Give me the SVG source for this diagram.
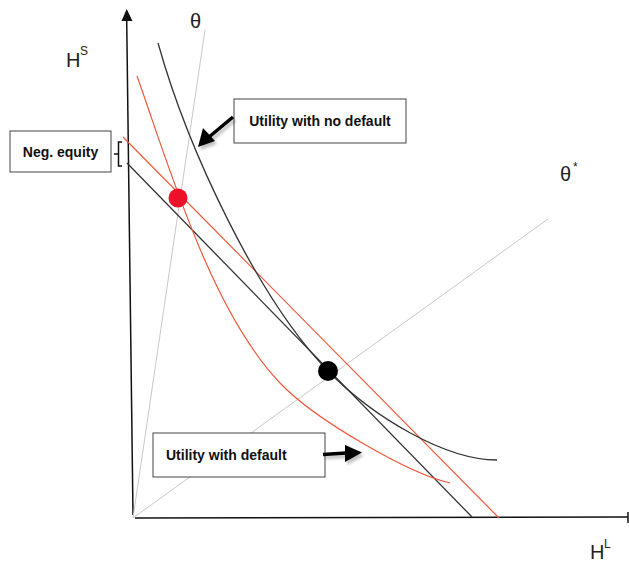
<svg xmlns="http://www.w3.org/2000/svg" width="629" height="564" viewBox="0 0 629 564">
<style>
  .axis{stroke:#111;stroke-width:1.5;fill:none}
  .guide{stroke:#c8c8c8;stroke-width:1;fill:none}
  .blk{stroke:#333;stroke-width:1.3;fill:none}
  .red{stroke:#f0583a;stroke-width:1.2;fill:none}
  .lbl{font-family:"Liberation Sans",Arial,sans-serif;fill:#222}
  .box{fill:#fff;stroke:#444;stroke-width:1}
  .btxt{font-family:"Liberation Sans",Arial,sans-serif;font-weight:bold;font-size:14px;fill:#111}
  .shadow{stroke:#000;opacity:0.25}
</style>
<defs>
  <filter id="blur" x="-20%" y="-20%" width="140%" height="140%"><feGaussianBlur stdDeviation="1.5"/></filter>
</defs>
<rect width="629" height="564" fill="#fff"/>
<g id="axes">
  <line class="axis" x1="126.7" y1="20" x2="133" y2="515"/>
  <polygon points="126.7,9 121.5,21 132.5,21" fill="#111"/>
  <line class="axis" x1="135" y1="518" x2="628" y2="517"/>
  <line class="axis" x1="628" y1="512" x2="628" y2="523" stroke-width="1"/>
</g>
<g id="connectors">
  <line class="guide" x1="133" y1="518" x2="205" y2="30"/>
  <line class="guide" x1="133" y1="518" x2="548" y2="219"/>
  <line class="red" x1="123" y1="137" x2="499" y2="518"/>
  <line class="blk" x1="127" y1="163" x2="472" y2="517"/>
  <path class="blk" d="M158,43 C188,150 258,299 328,371 C373,417 445,460 497,460"/>
  <path class="red" d="M137,76 C167,160 210,309.5 280,383 C315,420 410,474 450,483"/>
  <path d="M122,142 H118.5 V166 H122 M118.5,154 H114" stroke="#111" stroke-width="1.5" fill="none"/>
</g>
<g id="red-dot"><circle cx="178" cy="198" r="9.5" fill="#ec1028"/></g>
<g id="black-dot"><circle cx="328" cy="371" r="10" fill="#000"/></g>
<g id="labels">
  <text class="lbl" x="66" y="67" font-size="20">H</text>
  <text class="lbl" x="80" y="55" font-size="12">S</text>
  <text class="lbl" x="190" y="28" font-size="20">θ</text>
  <text class="lbl" x="560" y="181" font-size="20">θ</text>
  <text class="lbl" x="573" y="171" font-size="12">*</text>
  <text class="lbl" x="590" y="559" font-size="20">H</text>
  <text class="lbl" x="604" y="548" font-size="12">L</text>
</g>
<g id="neg-equity">
  <rect class="box" x="10" y="131" width="101" height="41"/>
  <text class="btxt" x="60.5" y="157" text-anchor="middle">Neg. equity</text>
</g>
<g id="no-default">
  <rect class="box" x="234" y="99" width="172" height="44"/>
  <text class="btxt" x="320" y="126" text-anchor="middle">Utility with no default</text>
  <g class="shadow" filter="url(#blur)" transform="translate(2,3)">
    <line x1="233" y1="117" x2="209" y2="137" stroke-width="3.5"/>
    <polygon points="198,147 203,128 215,141" fill="#000" stroke="none"/>
  </g>
  <line x1="233" y1="117" x2="209" y2="137" stroke="#000" stroke-width="3.5"/>
  <polygon points="198,147 203,128 215,141" fill="#000"/>
</g>
<g id="with-default">
  <rect class="box" x="153" y="433" width="172" height="44"/>
  <text class="btxt" x="166" y="460">Utility with default</text>
  <g class="shadow" filter="url(#blur)" transform="translate(2,3)">
    <line x1="323" y1="454.5" x2="346" y2="453" stroke-width="3.5"/>
    <polygon points="362,452.5 345,445 345,462" fill="#000" stroke="none"/>
  </g>
  <line x1="323" y1="454.5" x2="346" y2="453" stroke="#000" stroke-width="3.5"/>
  <polygon points="362,452.5 345,445 345,462" fill="#000"/>
</g>
</svg>
